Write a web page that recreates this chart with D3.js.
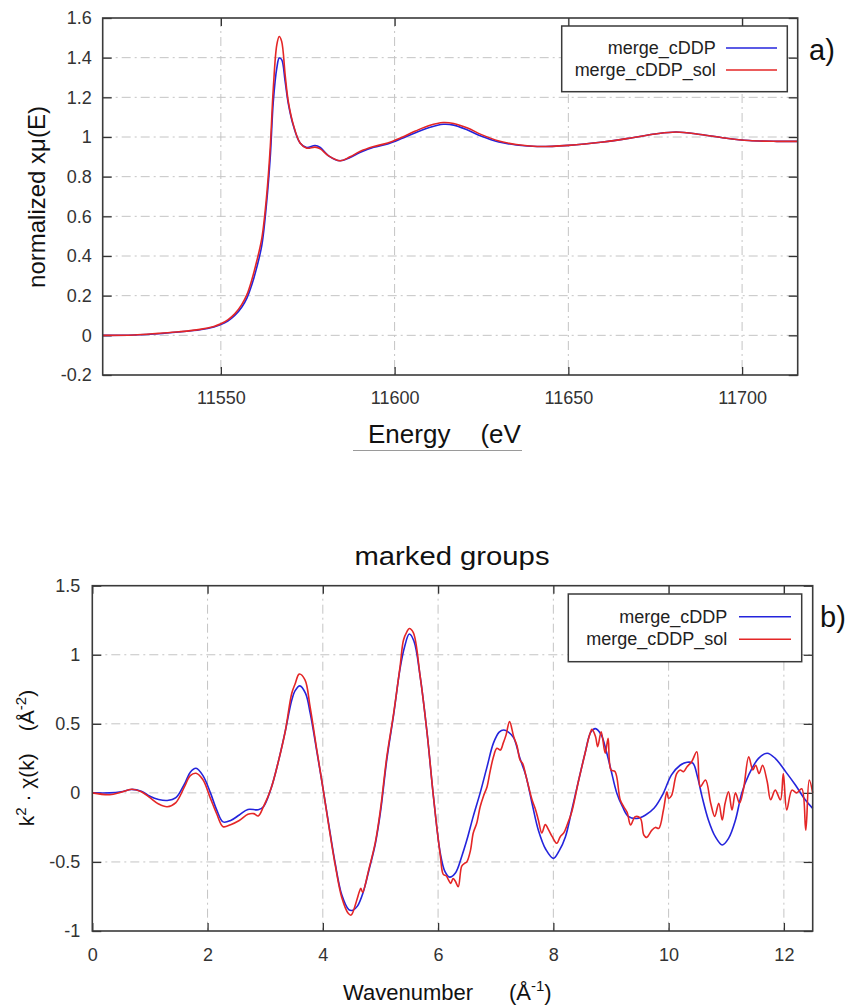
<!DOCTYPE html>
<html lang="en">

<head>
  <meta charset="UTF-8">
  <title>merge_cDDP vs merge_cDDP_sol</title>
  <style>
    * {
      margin: 0;
      padding: 0;
      box-sizing: border-box;
    }

    body {
      background: white;
      width: 849px;
      height: 1007px;
      overflow: hidden;
    }

    svg text {
      font-family: "Liberation Sans", Arial, sans-serif;
      fill: #222;
    }

    .grid line {
      stroke: #c4c4c4;
      stroke-width: 1;
      stroke-dasharray: 9, 4, 2, 4;
    }

    .axis path.domain {
      display: none;
    }

    .axis line {
      stroke: #333;
      stroke-width: 1.3;
    }

    .axis text {
      font-size: 18px;
      fill: #333;
    }
  </style>
  <script src="https://cdnjs.cloudflare.com/ajax/libs/d3/7.8.5/d3.min.js"></script>
</head>

<body>
  <svg id="chart" width="849" height="1007"></svg>

  <script>
    // ---- panel a) normalized XANES ----
    const energy = [11516, 11525, 11532, 11538, 11544, 11548, 11550, 11552, 11554, 11556, 11557.5, 11559,
      11560.3, 11561.8, 11563.2, 11564.2, 11565.1, 11566.1, 11566.8, 11567.5, 11568.5, 11569.4, 11570.9,
      11572.8, 11574.7, 11577.1, 11578.6, 11581, 11584.3, 11587.2, 11590, 11594, 11598, 11602, 11606,
      11610, 11614, 11617, 11621, 11625, 11630, 11635, 11641, 11650, 11660, 11668, 11675, 11681, 11688,
      11695, 11702, 11710, 11716];
    const muCDDP = [0.000, 0.002, 0.008, 0.017, 0.028, 0.042, 0.054, 0.072, 0.100, 0.142, 0.188, 0.260,
      0.340, 0.455, 0.675, 0.894, 1.180, 1.347, 1.398, 1.390, 1.280, 1.170, 1.055,
      0.970, 0.947, 0.957, 0.947, 0.905, 0.880, 0.897, 0.922, 0.948, 0.965, 0.992, 1.022,
      1.048, 1.064, 1.060, 1.035, 1.004, 0.975, 0.960, 0.952, 0.958, 0.975, 0.995, 1.015, 1.025, 1.013,
      0.995, 0.982, 0.978, 0.978];
    const muSol = [0.000, 0.002, 0.010, 0.018, 0.030, 0.045, 0.058, 0.078, 0.108, 0.155, 0.205, 0.285,
      0.372, 0.490, 0.708, 0.944, 1.247, 1.465, 1.507, 1.482, 1.314, 1.180, 1.060,
      0.970, 0.944, 0.949, 0.940, 0.905, 0.880, 0.900, 0.927, 0.952, 0.970, 0.998, 1.030,
      1.058, 1.073, 1.068, 1.045, 1.012, 0.980, 0.962, 0.952, 0.958, 0.975, 0.995, 1.015, 1.025, 1.013,
      0.995, 0.982, 0.978, 0.978];
    const xanesTicksX = [11550, 11600, 11650, 11700];
    const xanesTicksY = [-0.2, 0, 0.2, 0.4, 0.6, 0.8, 1, 1.2, 1.4, 1.6];

    // ---- panel b) k^2-weighted EXAFS ----
    const kCDDP = [0, 0.3, 0.5, 0.68, 0.85, 1.0, 1.15, 1.3, 1.45, 1.6, 1.7, 1.8, 1.92, 2.05, 2.16, 2.27,
      2.4, 2.55, 2.7, 2.88, 2.97, 3.1, 3.23, 3.35, 3.46, 3.52, 3.6, 3.7, 3.78, 3.9, 4.0, 4.1, 4.21, 4.33,
      4.45, 4.52, 4.6, 4.7, 4.8, 4.91, 5.0, 5.11, 5.23, 5.34, 5.42, 5.5, 5.58, 5.69, 5.81, 5.92, 6.04,
      6.12, 6.2, 6.3, 6.41, 6.5, 6.61, 6.73, 6.85, 6.96, 7.06, 7.14, 7.22, 7.31, 7.42, 7.52, 7.63, 7.74,
      7.87, 8.0, 8.1, 8.21, 8.32, 8.44, 8.55, 8.65, 8.73, 8.83, 8.92, 9.0, 9.1, 9.2, 9.3, 9.45, 9.6, 9.75,
      9.9, 10.05, 10.2, 10.32, 10.42, 10.5, 10.58, 10.69, 10.81, 10.93, 11.04, 11.16, 11.27, 11.39,
      11.56, 11.71, 11.85, 12.03, 12.2, 12.37, 12.5];
    const chiCDDP = [0, 0, 0.008, 0.025, 0.012, -0.025, -0.048, -0.055, -0.035, 0.065, 0.15, 0.178, 0.125,
      0, -0.125, -0.21, -0.2, -0.16, -0.12, -0.122, -0.1, 0.03, 0.23, 0.45, 0.67, 0.74, 0.775, 0.72, 0.58,
      0.29, 0.04, -0.22, -0.5, -0.74, -0.845, -0.85, -0.82, -0.72, -0.56, -0.37, -0.14, 0.24, 0.57, 0.9,
      1.06, 1.15, 1.1, 0.84, 0.43, -0.03, -0.44, -0.57, -0.61, -0.58, -0.46, -0.34, -0.17, 0, 0.19, 0.36,
      0.44, 0.455, 0.44, 0.4, 0.25, 0.13, -0.075, -0.27, -0.41, -0.474, -0.42, -0.317, -0.124, 0.093,
      0.287, 0.44, 0.465, 0.42, 0.3, 0.166, 0, -0.1, -0.17, -0.185, -0.16, -0.11, -0.01, 0.13, 0.2, 0.222,
      0.215, 0.118, -0.027, -0.196, -0.317, -0.377, -0.329, -0.196, 0, 0.13, 0.25, 0.287, 0.25, 0.154,
      0.057, -0.05, -0.112];
    const kSol = [0, 0.3, 0.5, 0.68, 0.85, 1.0, 1.15, 1.3, 1.45, 1.6, 1.7, 1.8, 1.92, 2.05, 2.16, 2.27,
      2.4, 2.55, 2.7, 2.8, 2.88, 2.97, 3.1, 3.23, 3.35, 3.46, 3.52, 3.59, 3.69, 3.78, 3.9, 4.0, 4.1, 4.21,
      4.33, 4.44, 4.49, 4.59, 4.63, 4.66, 4.69, 4.8, 4.91, 5.0, 5.11, 5.23, 5.34, 5.4, 5.46, 5.5, 5.57,
      5.69, 5.81, 5.92, 6.04, 6.09, 6.14, 6.18, 6.22, 6.26, 6.3, 6.35, 6.41, 6.46, 6.5, 6.56, 6.61, 6.67,
      6.73, 6.79, 6.85, 6.9, 6.96, 7.02, 7.08, 7.13, 7.18, 7.24, 7.31, 7.37, 7.42, 7.47, 7.52, 7.58, 7.63,
      7.69, 7.74, 7.8, 7.86, 7.92, 7.98, 8.06, 8.12, 8.18, 8.25, 8.32, 8.44, 8.55, 8.63, 8.67, 8.73, 8.77,
      8.83, 8.9, 8.95, 9.0, 9.07, 9.16, 9.22, 9.28, 9.34, 9.42, 9.51, 9.57, 9.62, 9.71, 9.77, 9.83, 9.91,
      9.97, 10.0, 10.05, 10.14, 10.2, 10.26, 10.32, 10.4, 10.49, 10.55, 10.64, 10.73, 10.8, 10.87, 10.93,
      10.98, 11.04, 11.1, 11.16, 11.23, 11.3, 11.39, 11.46, 11.51, 11.57, 11.63, 11.71, 11.77, 11.85,
      11.94, 11.99, 12.05, 12.14, 12.22, 12.31, 12.38, 12.44, 12.5];
    const chiSol = [0, -0.013, 0.005, 0.026, 0.008, -0.035, -0.08, -0.1, -0.07, 0.045, 0.125, 0.142, 0.095,
      -0.04, -0.153, -0.245, -0.23, -0.2, -0.155, -0.15, -0.167, -0.1, 0.03, 0.23, 0.45, 0.72, 0.79, 0.86,
      0.818, 0.62, 0.3, 0.04, -0.23, -0.51, -0.76, -0.872, -0.885, -0.775, -0.72, -0.69, -0.72, -0.55,
      -0.36, -0.12, 0.26, 0.58, 0.914, 1.107, 1.167, 1.19, 1.16, 0.84, 0.43, -0.03, -0.46, -0.59, -0.6,
      -0.63, -0.655, -0.62, -0.64, -0.68, -0.53, -0.51, -0.498, -0.42, -0.29, -0.22, -0.1, -0.02, 0.045,
      0.15, 0.26, 0.323, 0.31, 0.36, 0.42, 0.516, 0.41, 0.34, 0.24, 0.21, 0.13, 0.03, -0.05, -0.12, -0.196,
      -0.29, -0.23, -0.27, -0.317, -0.365, -0.317, -0.29, -0.22, -0.136, 0.093, 0.287, 0.42, 0.46, 0.41,
      0.335, 0.443, 0.287, 0.395, 0.166, 0.154, -0.05, -0.1, -0.14, -0.232, -0.172, -0.184, -0.305, -0.322,
      -0.27, -0.25, -0.257, -0.124, 0.007, -0.04, -0.02, 0.14, 0.166, 0.154, 0.19, 0.226, 0.298, 0.045,
      0.093, -0.075, -0.17, -0.075, -0.196, -0.075, 0.007, -0.124, 0, -0.075, 0.03, 0.262, 0.166, 0.2,
      0.14, 0.2, 0.082, -0.05, 0.02, -0.05, 0.14, -0.124, 0.02, 0, 0.03, -0.27, 0.093, 0];
    const exafsTicksX = [0, 2, 4, 6, 8, 10, 12];
    const exafsTicksY = [-1, -0.5, 0, 0.5, 1, 1.5];

    const seriesNames = ['merge_cDDP', 'merge_cDDP_sol'];
    const seriesColors = ['#2424dc', '#e42626'];

    const svg = d3.select('#chart');
    const fmt = d => String(+d.toFixed(2));

    // text with optional superscript pieces, e.g. [{t: 'k'}, {t: '2', sup: true}]
    function richText(parent, pieces, size) {
      const supSize = Math.round(size * 0.7);
      const rise = Math.round(size * 0.4);
      let lifted = false;
      pieces.forEach(p => {
        const ts = parent.append('tspan').text(p.t).attr('xml:space', 'preserve');
        if (p.dx) ts.attr('dx', p.dx);
        if (p.sup && !lifted) { ts.attr('dy', -rise).style('font-size', supSize + 'px'); lifted = true; }
        else if (p.sup) ts.style('font-size', supSize + 'px');
        else if (lifted) { ts.attr('dy', rise); lifted = false; }
      });
    }

    function drawPanel(cfg) {
      const x = d3.scaleLinear().domain(cfg.xDomain).range([cfg.left, cfg.right]);
      const y = d3.scaleLinear().domain(cfg.yDomain).range([cfg.bottom, cfg.top]);
      const g = svg.append('g');

      // dash-dot grid
      const grid = g.append('g').attr('class', 'grid');
      grid.selectAll('.gx').data(cfg.ticksX.filter(v => x(v) > cfg.left + 1 && x(v) < cfg.right - 1))
        .enter().append('line')
        .attr('x1', d => x(d)).attr('x2', d => x(d))
        .attr('y1', cfg.top).attr('y2', cfg.bottom);
      grid.selectAll('.gy').data(cfg.ticksY.filter(v => y(v) > cfg.top + 1 && y(v) < cfg.bottom - 1))
        .enter().append('line')
        .attr('y1', d => y(d)).attr('y2', d => y(d))
        .attr('x1', cfg.left).attr('x2', cfg.right);

      // mirrored inward ticks on all four sides
      g.append('g').attr('class', 'axis')
        .attr('transform', `translate(0,${cfg.bottom})`)
        .call(d3.axisBottom(x).tickValues(cfg.ticksX).tickSize(-8).tickPadding(cfg.padX).tickFormat(fmt));
      g.append('g').attr('class', 'axis')
        .attr('transform', `translate(0,${cfg.top})`)
        .call(d3.axisTop(x).tickValues(cfg.ticksX).tickSize(-8).tickFormat(''));
      g.append('g').attr('class', 'axis')
        .attr('transform', `translate(${cfg.left},0)`)
        .call(d3.axisLeft(y).tickValues(cfg.ticksY).tickSize(-9).tickPadding(cfg.padY).tickFormat(fmt));
      g.append('g').attr('class', 'axis')
        .attr('transform', `translate(${cfg.right},0)`)
        .call(d3.axisRight(y).tickValues(cfg.ticksY).tickSize(-9).tickFormat(''));

      // curves
      const line = d3.line()
        .x(d => x(d[0]))
        .y(d => y(d[1]))
        .curve(d3.curveCatmullRom.alpha(0.5));
      cfg.series.forEach((s, i) => {
        g.append('path')
          .datum(s.xs.map((v, j) => [v, s.ys[j]]))
          .attr('fill', 'none')
          .attr('stroke', seriesColors[i])
          .attr('stroke-width', 1.6)
          .attr('stroke-linejoin', 'round')
          .attr('d', line);
      });

      // frame
      g.append('rect')
        .attr('x', cfg.left).attr('y', cfg.top)
        .attr('width', cfg.right - cfg.left).attr('height', cfg.bottom - cfg.top)
        .attr('fill', 'none').attr('stroke', '#3a3a3a').attr('stroke-width', 1.6);

      // legend
      const lg = cfg.legend;
      g.append('rect')
        .attr('x', lg.x).attr('y', lg.y).attr('width', lg.w).attr('height', lg.h)
        .attr('fill', 'white').attr('stroke', '#3a3a3a').attr('stroke-width', 1.5);
      seriesNames.forEach((name, i) => {
        const ly = lg.rowY[i];
        g.append('text')
          .attr('x', lg.textX).attr('y', ly + 6)
          .attr('text-anchor', 'end')
          .style('font-size', '18px')
          .text(name);
        g.append('line')
          .attr('x1', lg.lineX[0]).attr('x2', lg.lineX[1])
          .attr('y1', ly).attr('y2', ly)
          .attr('stroke', seriesColors[i]).attr('stroke-width', 1.5);
      });

      // panel tag
      g.append('text')
        .attr('x', cfg.tag.x).attr('y', cfg.tag.y)
        .style('font-size', '29px').style('fill', '#111')
        .text(cfg.tag.text);

      return g;
    }

    // panel a)
    const ga = drawPanel({
      xDomain: [11516, 11716], yDomain: [-0.2, 1.6],
      left: 102.7, right: 797.7, top: 18, bottom: 375,
      ticksX: xanesTicksX, ticksY: xanesTicksY, padX: 16, padY: 11,
      series: [{ xs: energy, ys: muCDDP }, { xs: energy, ys: muSol }],
      legend: { x: 561.7, y: 26, w: 225.6, h: 65.7, rowY: [48, 70], textX: 715.7, lineX: [726, 777] },
      tag: { text: 'a)', x: 809, y: 60 }
    });

    ga.append('text')
      .attr('transform', 'translate(45,197) rotate(-90)')
      .attr('text-anchor', 'middle')
      .style('font-size', '24px').style('fill', '#111')
      .text('normalized xμ(E)');

    const ea = ga.append('text')
      .attr('x', 368).attr('y', 443)
      .style('font-size', '26px').style('fill', '#111');
    richText(ea, [{ t: 'Energy' }, { t: '(eV', dx: 30 }], 26);
    ga.append('line')
      .attr('x1', 353).attr('x2', 522).attr('y1', 450.5).attr('y2', 450.5)
      .attr('stroke', '#9a9a9a').attr('stroke-width', 1);

    // panel b)
    const gb = drawPanel({
      xDomain: [0, 12.5], yDomain: [-1, 1.5],
      left: 92.3, right: 812.7, top: 585.7, bottom: 931,
      ticksX: exafsTicksX, ticksY: exafsTicksY, padX: 17, padY: 12,
      series: [{ xs: kCDDP, ys: chiCDDP }, { xs: kSol, ys: chiSol }],
      legend: { x: 568.3, y: 594, w: 233.4, h: 67.7, rowY: [616.7, 639.3], textX: 727.3, lineX: [739, 791] },
      tag: { text: 'b)', x: 820, y: 627 }
    });

    gb.append('text')
      .attr('x', 452).attr('y', 565)
      .attr('text-anchor', 'middle')
      .attr('textLength', 195).attr('lengthAdjust', 'spacingAndGlyphs')
      .style('font-size', '26px').style('fill', '#111')
      .text('marked groups');

    const yb = gb.append('text')
      .attr('transform', 'translate(34,758) rotate(-90)')
      .attr('text-anchor', 'middle')
      .style('font-size', '21px').style('fill', '#111');
    richText(yb, [{ t: 'k' }, { t: '2', sup: true }, { t: ' · χ(k)' }, { t: '(Å', dx: 22 }, { t: '-2', sup: true }, { t: ')' }], 21);

    const xb = gb.append('text')
      .attr('x', 343).attr('y', 1000)
      .style('font-size', '22px').style('fill', '#111');
    richText(xb, [{ t: 'Wavenumber' }, { t: '(Å', dx: 36 }, { t: '-1', sup: true }, { t: ')' }], 22);
  </script>
</body>

</html>
